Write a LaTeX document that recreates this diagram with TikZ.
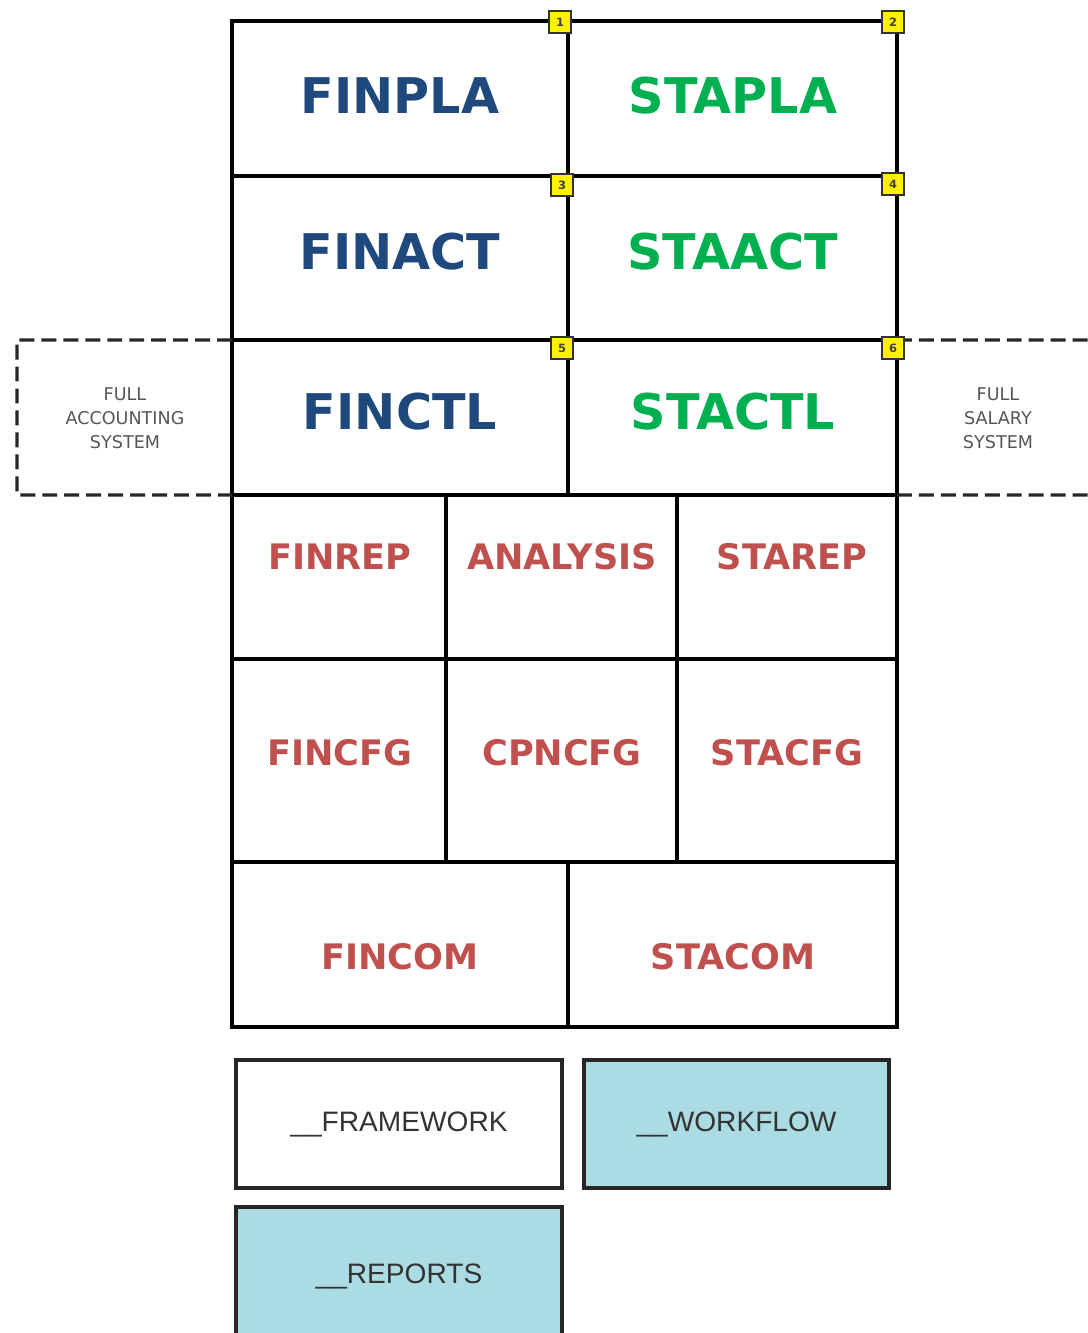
\documentclass[tikz,border=0pt]{standalone}
\usepackage{fontspec}
\setmainfont{DejaVu Sans}
\newfontfamily\arialfont{Liberation Sans}
\usepackage{tikz}
\usetikzlibrary{positioning}

\definecolor{finblue}{HTML}{1F497D}
\definecolor{stagreen}{HTML}{00B050}
\definecolor{modred}{HTML}{C0504D}
\definecolor{wfcyan}{RGB}{172,220,227}
\definecolor{notegray}{RGB}{85,85,85}

\tikzset{
    cell/.style={draw=black, line width=2pt, inner sep=0pt, outer sep=0pt},
    bigname/.style={font=\bfseries\fontsize{28}{30}\selectfont},
    modname/.style={font=\bfseries\fontsize{20}{22}\selectfont, text=modred},
    badge/.style={draw=black!80, fill=yellow, line width=1.2pt, minimum size=12.5pt,
        inner sep=0pt, font=\bfseries\fontsize{6.5}{6.5}\selectfont, text=black!75},
    note/.style={align=center, text=notegray, font=\fontsize{10}{13.6}\selectfont},
    sysbox/.style={draw=black!85, line width=1.9pt, dash pattern=on 8.5pt off 4pt},
    extra/.style={draw=black!85, line width=2pt, minimum height=2.56cm, inner sep=0pt,
        text=black!80, font=\arialfont\fontsize{16}{18}\selectfont},
}

\begin{document}
\begin{tikzpicture}[x=0.02cm, y=-0.02cm]
    \useasboundingbox (0,0) rectangle (1088,1333);
    \clip (0,0) rectangle (1088,1333);

    % planning, acting and control rows
    \node[cell, minimum width=6.72cm, minimum height=3.10cm] (finpla) at (400,98.5) {};
    \node[cell, minimum width=6.58cm, minimum height=3.10cm] (stapla) at (732.5,98.5) {};
    \node[cell, minimum width=6.72cm, minimum height=3.28cm] (finact) at (400,258) {};
    \node[cell, minimum width=6.58cm, minimum height=3.28cm] (staact) at (732.5,258) {};
    \node[cell, minimum width=6.72cm, minimum height=3.10cm] (finctl) at (400,417.5) {};
    \node[cell, minimum width=6.58cm, minimum height=3.10cm] (stactl) at (732.5,417.5) {};

    \node[bigname, text=finblue] (finplat) at (400,96) {FINPLA};
    \node[bigname, text=stagreen] (staplat) at (733,96) {STAPLA};
    \node[bigname, text=finblue] (finactt) at (400,252) {FINACT};
    \node[bigname, text=stagreen] (staactt) at (733,252) {STAACT};
    \node[bigname, text=finblue] (finctlt) at (400,412) {FINCTL};
    \node[bigname, text=stagreen] (stactlt) at (733,412) {STACTL};

    % reporting and configuration rows
    \node[cell, minimum width=4.28cm, minimum height=3.28cm] (finrep) at (339,577) {};
    \node[cell, minimum width=4.62cm, minimum height=3.28cm] (analysis) at (561.5,577) {};
    \node[cell, minimum width=4.40cm, minimum height=3.28cm] (starep) at (787,577) {};
    \node[cell, minimum width=4.28cm, minimum height=4.06cm] (fincfg) at (339,760.5) {};
    \node[cell, minimum width=4.62cm, minimum height=4.06cm] (cpncfg) at (561.5,760.5) {};
    \node[cell, minimum width=4.40cm, minimum height=4.06cm] (stacfg) at (787,760.5) {};
    \node[cell, minimum width=6.72cm, minimum height=3.30cm] (fincom) at (400,944.5) {};
    \node[cell, minimum width=6.58cm, minimum height=3.30cm] (stacom) at (732.5,944.5) {};

    \node[modname] (finrept) at (340,557) {FINREP};
    \node[modname] (analysist) at (562,557) {ANALYSIS};
    \node[modname] (stporept) at (792,557) {STAREP};
    \node[modname] (fincfgt) at (340,753) {FINCFG};
    \node[modname] (cpncfgt) at (562,753) {CPNCFG};
    \node[modname] (stacfgt) at (787,753) {STACFG};
    \node[modname] (fincomt) at (400,957) {FINCOM};
    \node[modname] (stacomt) at (733,957) {STACOM};

    % full systems
    \draw[sysbox] (finctl.north west) -- (17,340) -- (17,495) -- (finctl.south west);
    \draw[sysbox] (stactl.north east) -- (1088,340);
    \draw[sysbox] (stactl.south east) -- (1088,495);
    \node[note] (fullacct) at (125,418) {FULL\\ACCOUNTING\\SYSTEM};
    \node[note] (fullsal) at (998,418) {FULL\\SALARY\\SYSTEM};

    \foreach \n/\x/\y in {1/560/22, 2/893/22, 3/562/185, 4/893/184, 5/562/348, 6/893/348}
        \node[badge] (b\n) at (\x,\y) {\n};

    % common parts
    \node[extra, minimum width=6.52cm] (framework) at (399,1124) {\_\_FRAMEWORK};
    \node[extra, fill=wfcyan, minimum width=6.10cm] (workflow) at (736.5,1124) {\_\_WORKFLOW};
    \node[extra, fill=wfcyan, minimum width=6.52cm, minimum height=2.76cm] (reports) at (399,1276) {\_\_REPORTS};
\end{tikzpicture}
\end{document}
